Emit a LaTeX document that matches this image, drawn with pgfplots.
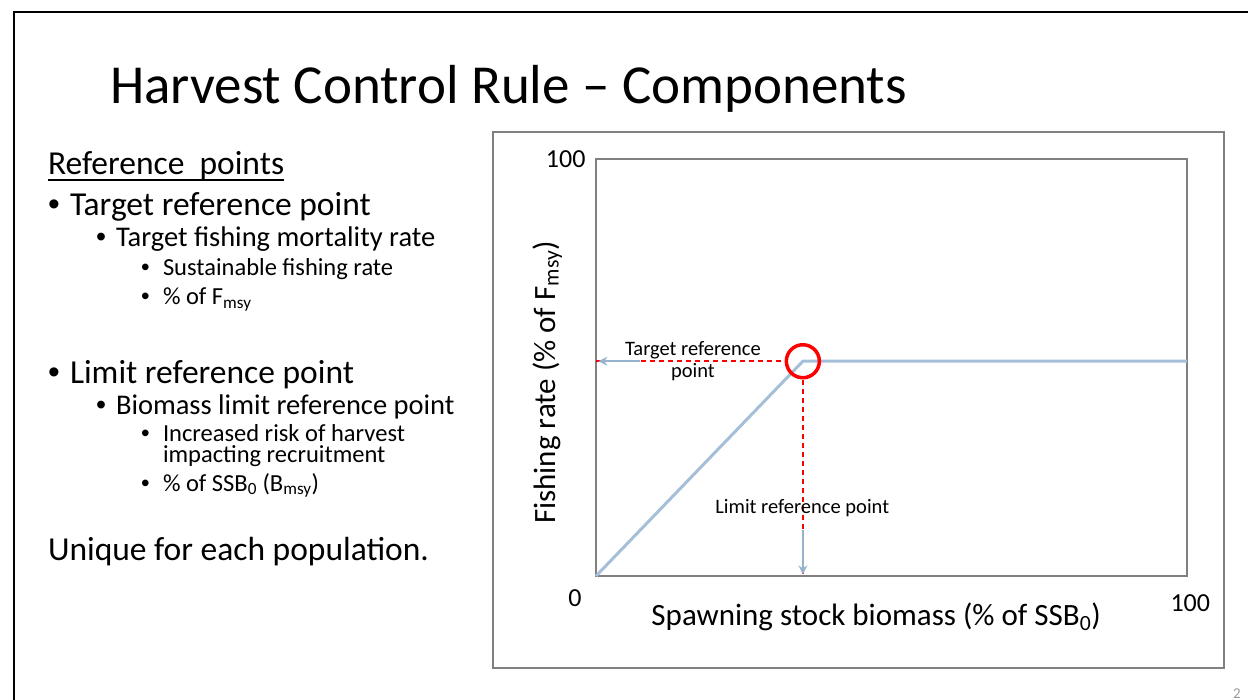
\documentclass[border=0pt]{standalone}
\usepackage{fontspec}
\setmainfont{Carlito}
\newfontfamily\bulletfont{Liberation Sans}
\usepackage{pgfplots}
\pgfplotsset{compat=1.18}
\usetikzlibrary{arrows.meta,calc}
\definecolor{hcrBlue}{RGB}{166,191,216}
\definecolor{arrBlue}{RGB}{150,178,206}
\definecolor{frameGray}{RGB}{128,128,128}
\definecolor{hcrRed}{RGB}{255,0,0}
\newcommand\fs[1]{\fontsize{#1}{#1}\selectfont}

\begin{document}
\begin{tikzpicture}
\path[use as bounding box] (0,0) rectangle (1248pt,-700pt);
% slide text, 1pt = 1px, y runs down
\begin{scope}[x=1pt,y=-1pt,every node/.style={inner sep=0pt,outer sep=0pt}]
\draw[line width=2.4pt] (14,701) -- (14,12) -- (1249,12);
\node[anchor=base west,font=\fs{55}] at (110,104) {Harvest Control Rule – Components};
\node[anchor=base west,font=\fs{33.5}] (rp) at (48,175) {Reference\ \ points};
\draw[line width=1.4pt] ($(rp.base west)+(0,5)$) -- ($(rp.base east)+(0,5)$);
% level 1
\node[anchor=base west,font=\bulletfont\fs{33.5}] at (48,216) {•};
\node[anchor=base west,font=\fs{33.5}] at (70,216) {Target reference point};
\node[anchor=base west,font=\bulletfont\fs{33.5}] at (48,384) {•};
\node[anchor=base west,font=\fs{33.5}] at (70,384) {Limit reference point};
% level 2
\node[anchor=base west,font=\bulletfont\fs{28.5}] at (96,247) {•};
\node[anchor=base west,font=\fs{28.5}] at (116,247) {Target fishing mortality rate};
\node[anchor=base west,font=\bulletfont\fs{28.5}] at (96,415) {•};
\node[anchor=base west,font=\fs{28.5}] at (116,415) {Biomass limit reference point};
% level 3
\node[anchor=base west,font=\bulletfont\fs{24.5}] at (141,276) {•};
\node[anchor=base west,font=\fs{24.5}] at (163,276) {Sustainable fishing rate};
\node[anchor=base west,font=\bulletfont\fs{24.5}] at (141,305) {•};
\node[anchor=base west,font=\fs{24.5}] at (163,305) {\% of F\textsubscript{msy}};
\node[anchor=base west,font=\bulletfont\fs{24.5}] at (141,442) {•};
\node[anchor=base west,font=\fs{24.5}] at (163,442) {Increased risk of harvest};
\node[anchor=base west,font=\fs{24.5}] at (163,463) {impacting recruitment};
\node[anchor=base west,font=\bulletfont\fs{24.5}] at (141,491) {•};
\node[anchor=base west,font=\fs{24.5}] at (163,491) {\% of SSB\textsubscript{0} (B\textsubscript{msy})};
\node[anchor=base west,font=\fs{33.5}] at (48,560) {Unique for each population.};
\node[anchor=base west,font=\fs{15},text=frameGray!80] at (1233,698) {2};
% chart frame
\draw[frameGray,line width=1.2pt] (493,132) rectangle (1224,668);
\end{scope}

\begin{axis}[at={(596pt,-576pt)},anchor=south west,scale only axis,
  width=591pt,height=417pt,xmin=0,xmax=100,ymin=0,ymax=100,
  xtick=\empty,ytick=\empty,clip=false,
  axis line style={draw=frameGray,line width=1.6pt},
  every node/.style={inner sep=0pt,outer sep=0pt}]
\addplot[draw=hcrRed,line width=1.5pt,dash pattern=on 5pt off 4pt] coordinates {(0,51.5) (32,51.5)};
\addplot[draw=hcrRed,line width=1.5pt,dash pattern=on 5pt off 4pt] coordinates {(35,47) (35,0)};
\addplot[arrBlue,line width=2.2pt,-{Stealth[length=9pt,width=9pt]}] coordinates {(7.4,51.5) (0.4,51.5)};
\addplot[arrBlue,line width=2.2pt,-{Stealth[length=9pt,width=9pt]}] coordinates {(35,11) (35,0.4)};
\addplot[hcrBlue,line width=3pt] coordinates {(0,0) (35,51.5) (100,51.5)};
\addplot[only marks,mark=o,mark size=16.5pt,mark options={draw=hcrRed,line width=3.5pt}] coordinates {(35,51.5)};
\node[anchor=base,font=\fs{20.5}] at (axis cs:16.4,52.8) {Target reference};
\node[anchor=base,font=\fs{20.5}] at (axis cs:16.4,47.5) {point};
\node[anchor=base,font=\fs{20.5}] at (axis cs:34.9,15.1) {Limit reference point};
\node[anchor=east,font=\fs{26}] at (axis cs:0,100) [xshift=-7pt] {100};
\node[anchor=north east,font=\fs{26}] at (axis cs:0,0) [xshift=-11pt,yshift=-10pt] {0};
\node[anchor=north west,font=\fs{26}] at (axis cs:100,0) [xshift=-20pt,yshift=-15pt] {100};
\node[anchor=base,font=\fs{31}] at (axis cs:47.4,0) [yshift=-49pt] {Spawning stock biomass (\% of SSB\textsubscript{0})};
\node[anchor=base,rotate=90,font=\fs{31}] at ([xshift=-41pt]axis cs:0,46.4) {Fishing rate (\% of F\textsubscript{msy})};
\end{axis}
\end{tikzpicture}
\end{document}
